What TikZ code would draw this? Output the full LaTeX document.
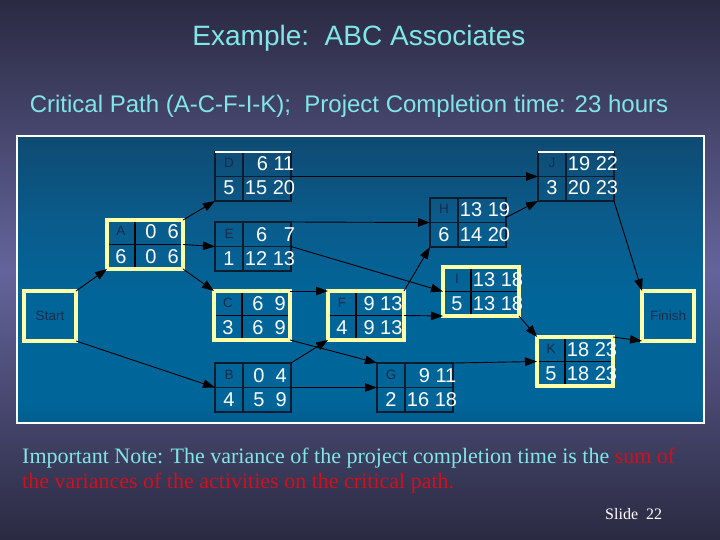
\documentclass[tikz,border=0pt]{standalone}
\usepackage{fontspec}
\setmainfont{Liberation Sans}
\newfontfamily\notefont{Liberation Serif}
\usetikzlibrary{arrows.meta}
\definecolor{bgdark}{HTML}{2A2A42}
\definecolor{bgmid}{HTML}{64649C}
\definecolor{pnltop}{HTML}{162F4A}
\definecolor{pnlbot}{HTML}{0C2A46}
\definecolor{pnllow}{HTML}{083A60}
\definecolor{pnlmid}{HTML}{00669A}
\definecolor{pnlup}{HTML}{0A5C8C}
\definecolor{cyantxt}{HTML}{80E6E6}
\definecolor{redtxt}{HTML}{D0101C}
\definecolor{crityel}{HTML}{FFFFA8}
\definecolor{boxline}{HTML}{0A1C2E}
\definecolor{letcol}{HTML}{1A2C4C}
\pgfdeclareverticalshading{panelshade}{100bp}{color(0bp)=(pnlbot); color(10bp)=(pnllow); color(29bp)=(pnlmid); color(46bp)=(pnlmid); color(60bp)=(pnlup); color(98bp)=(pnltop); color(100bp)=(pnltop)}
\tikzset{
  plainbox/.style={draw=boxline, line width=1.2pt, minimum width=76pt, minimum height=49pt, anchor=north west, outer sep=0pt, inner sep=0pt},
  critbox/.style={draw=crityel, line width=3.5pt, minimum width=76pt, minimum height=49pt, anchor=north west, outer sep=0pt, inner sep=0pt},
  termbox/.style={draw=crityel, line width=3.5pt, minimum width=52pt, minimum height=50pt, anchor=north west, outer sep=0pt, inner sep=0pt, text=letcol, font=\fontsize{13.5}{14}\selectfont},
  plaindiv/.style={draw=boxline, line width=1.2pt},
  critdiv/.style={draw=black, line width=1.8pt},
  numtxt/.style={text=white, font=\fontsize{20}{20}\selectfont, inner sep=0pt, anchor=base},
  lettxt/.style={text=letcol, font=\fontsize{13.5}{14}\selectfont, inner sep=0pt, anchor=base},
  arr/.style={draw=black, line width=0.9pt, -{Triangle[length=12pt,width=8.5pt]}},
}
\newcommand\actbox[6]{% name, x, y, box style, divider style, letter
  \begin{scope}[shift={(#2,#3)}]
    \draw[#5] (28,0) -- (28,49);
    \draw[#5] (0,24.5) -- (76,24.5);
    \node[#4] (#1) at (0,0) {};
    \node[lettxt] (#1l) at (14,16) {#6};
  \end{scope}}
\newcommand\acttimes[4]{% name, duration, top right, bottom right
  \begin{scope}[shift={(#1.north west)}]
    \node[numtxt] (#1d) at (14,43) {#2};
    \node[numtxt] (#1e) at (55,19) {#3};
    \node[numtxt] (#1s) at (55,43) {#4};
  \end{scope}}
\newcommand\ph{\phantom{0}}
\begin{document}
\begin{tikzpicture}[x=1pt,y=-1pt]
\useasboundingbox (0,0) rectangle (720,540);
\fill[top color=bgdark, bottom color=bgdark, middle color=bgmid] (0,0) rectangle (720,540);
% panel
\shade[shading=panelshade] (17,136) rectangle (704,423);
\draw[white, line width=2.5pt] (17,136) rectangle (704,423);
% titles
\node[text=cyantxt, font=\fontsize{28}{30}\selectfont, anchor=base, inner sep=0pt] (title) at (359,46) {Example:\ \ ABC Associates};
\node[text=cyantxt, font=\fontsize{24}{26}\selectfont, anchor=base, inner sep=0pt] (subtitle) at (349,113) {Critical Path (A-C-F-I-K);\ \ Project Completion time: 23 hours};
% nodes
\node[termbox] (start) at (24,291) {Start};
\node[termbox] (finish) at (642,291) {Finish};
\actbox{A}{107}{220}{critbox}{critdiv}{A}
\acttimes{A}{6}{0\ph 6}{0\ph 6}
\actbox{D}{215}{152}{plainbox}{plaindiv}{D}
\acttimes{D}{5}{\ph6 11}{15 20}
\draw[white, line width=1.5pt] (D.north west) -- (D.north east);
\actbox{E}{215}{222}{plainbox}{plaindiv}{E}
\acttimes{E}{1}{\ph6 \ph7}{12 13}
\actbox{C}{214}{291}{critbox}{critdiv}{C}
\acttimes{C}{3}{6\ph 9}{6\ph 9}
\actbox{B}{215}{363}{plainbox}{plaindiv}{B}
\acttimes{B}{4}{0\ph 4}{5\ph 9}
\actbox{F}{328}{291}{critbox}{critdiv}{F}
\acttimes{F}{4}{9 13}{9 13}
\actbox{G}{377}{363}{plainbox}{plaindiv}{G}
\acttimes{G}{2}{\ph9 11}{16 18}
\actbox{H}{430}{198}{plainbox}{plaindiv}{H}
\acttimes{H}{6}{13 19}{14 20}
\actbox{I}{443}{267}{critbox}{critdiv}{I}
\acttimes{I}{5}{13 18}{13 18}
\actbox{J}{538}{152}{plainbox}{plaindiv}{J}
\acttimes{J}{3}{19 22}{20 23}
\draw[white, line width=1.5pt] (J.north west) -- (J.north east);
\actbox{K}{537}{337}{critbox}{critdiv}{K}
\acttimes{K}{5}{18 23}{18 23}
% connectors
\draw[arr] (start.north east) -- (A.south west);
\draw[arr] (start.south east) -- (B.west);
\draw[arr] (A.north east) -- (D.south west);
\draw[arr] (A.east) -- (E.west);
\draw[arr] (A.south east) -- (C.north west);
\draw[arr] (D.east) -- (J.west);
\draw[arr] (E.north east) -- (H.west);
\draw[arr] (E.east) -- (I.west);
\draw[arr] (C.north east) -- (F.north west);
\draw[arr] (C.south east) -- (G.north west);
\draw[arr] (B.north east) -- (F.south west);
\draw[arr] (B.east) -- (G.west);
\draw[arr] (F.north east) -- (H.south west);
\draw[arr] (F.east) -- (I.south west);
\draw[arr] ([yshift=5pt]H.east) -- (J.south west);
\draw[arr] (I.south east) -- (K.north west);
\draw[arr] (G.north east) -- (K.west);
\draw[arr] (J.south east) -- (finish.north west);
\draw[arr] (K.north east) -- (finish.south west);
% note
\node[font=\notefont\fontsize{22}{26}\selectfont, text=cyantxt, anchor=base west, inner sep=0pt] (note1) at (22,463) {Important Note: The variance of the project completion time is the \textcolor{redtxt}{sum of}};
\node[font=\notefont\fontsize{22}{26}\selectfont, text=redtxt, anchor=base west, inner sep=0pt] (note2) at (22,488) {the variances of the activities on the critical path.};
\node[font=\notefont\fontsize{16}{18}\selectfont, text=white, anchor=base west, inner sep=0pt] (slide) at (605,519) {Slide\ \ 22};
\end{tikzpicture}
\end{document}
